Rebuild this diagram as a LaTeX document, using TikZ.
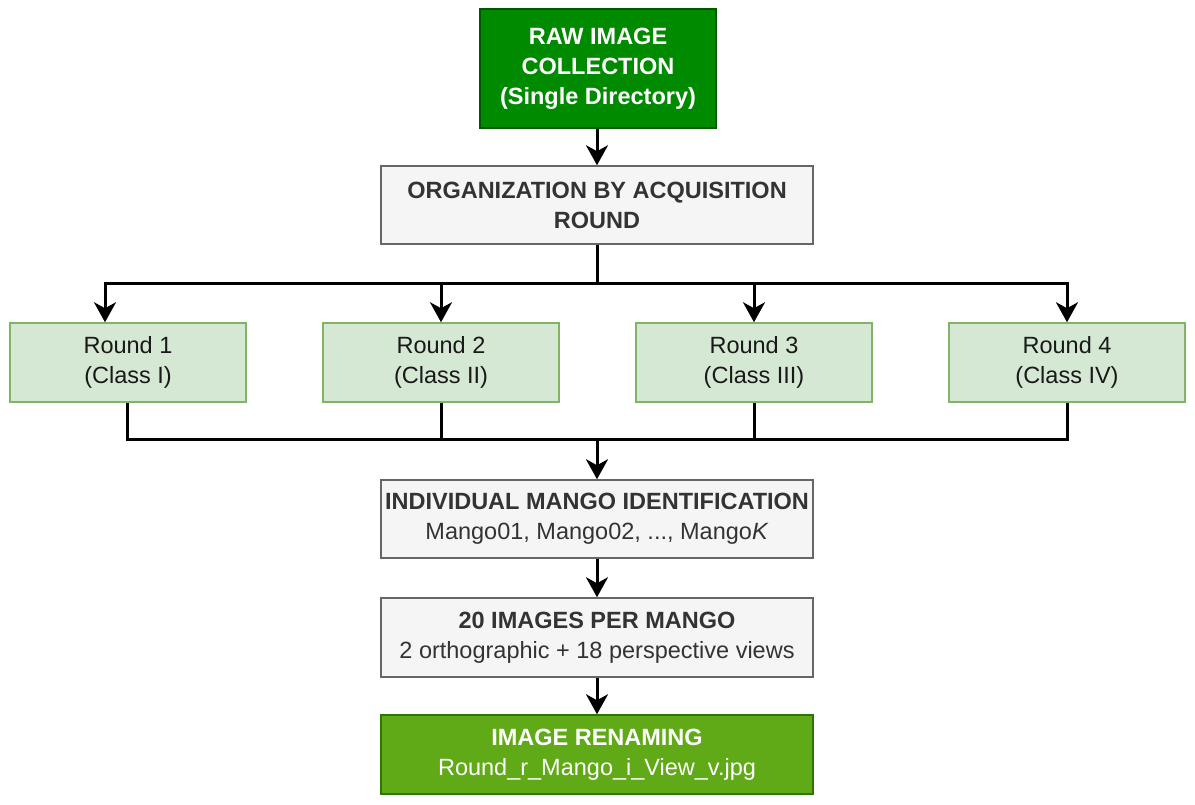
\documentclass[tikz,border=0pt]{standalone}
\usepackage{fontspec}
\setmainfont{Liberation Sans}
\usetikzlibrary{arrows.meta}
\definecolor{dkgreen}{HTML}{008A00}
\definecolor{dkgreenb}{HTML}{005700}
\definecolor{mgreen}{HTML}{60A917}
\definecolor{mgreenb}{HTML}{2D7600}
\definecolor{lgreen}{HTML}{D5E8D4}
\definecolor{lgreenb}{HTML}{82B366}
\definecolor{gfill}{HTML}{F5F5F5}
\definecolor{gbord}{HTML}{666666}
\definecolor{gtext}{HTML}{333333}
\tikzset{
  box/.style={draw, line width=1.5pt, align=center, inner sep=0pt,
    font=\fontsize{23.5}{30}\selectfont},
  darkbox/.style={box, fill=dkgreen, draw=dkgreenb, text=white,
    minimum width=236pt, minimum height=119pt},
  graybox/.style={box, fill=gfill, draw=gbord, text=gtext,
    minimum width=432pt, minimum height=78pt},
  roundbox/.style={box, fill=lgreen, draw=lgreenb, text=black!90,
    minimum width=236pt, minimum height=79pt},
  renbox/.style={box, fill=mgreen, draw=mgreenb, text=white,
    minimum width=432pt, minimum height=79pt},
  conn/.style={line width=3pt, black},
  arr/.style={conn, -{Stealth[length=20pt,width=22pt,inset=6pt]}},
}
\begin{document}
\begin{tikzpicture}[x=1pt,y=-1pt]
\useasboundingbox[fill=white] (0,0) rectangle (1195,804);
\node[darkbox] (raw) at (598,68.5) {\bfseries RAW IMAGE\\\bfseries COLLECTION\\\bfseries (Single Directory)};
\node[graybox] (org) at (597,205) {\bfseries ORGANIZATION BY ACQUISITION\\\bfseries ROUND};
\node[roundbox] (r1) at (128,362.5) {Round 1\\(Class I)};
\node[roundbox] (r2) at (441,362.5) {Round 2\\(Class II)};
\node[roundbox] (r3) at (754,362.5) {Round 3\\(Class III)};
\node[roundbox] (r4) at (1067,362.5) {Round 4\\(Class IV)};
\node[graybox] (mid) at (597,519) {\bfseries INDIVIDUAL MANGO IDENTIFICATION\\Mango01, Mango02, ..., Mango\textit{K}};
\node[graybox, minimum height=79pt] (img) at (597,637.5) {\bfseries 20 IMAGES PER MANGO\\2 orthographic + 18 perspective views};
\node[renbox] (ren) at (597,754.5) {\bfseries IMAGE RENAMING\\Round\_r\_Mango\_i\_View\_v.jpg};
\coordinate (j1) at (597,283);
\coordinate (j2) at (597,439);
\draw[arr] (raw.south -| org.north) -- (org.north);
\draw[conn] (org.south) -- (j1);
\draw[arr] (j1) -| ([xshift=-23pt]r1.north);
\draw[arr] (j1) -| (r2.north);
\draw[arr] (j1) -| (r3.north);
\draw[arr] (j1) -| (r4.north);
\draw[conn] ([xshift=-1pt]r1.south) |- (j2);
\draw[conn] (r2.south) |- (j2);
\draw[conn] (r3.south) |- (j2);
\draw[conn] (r4.south) |- (j2);
\draw[arr] (j2) -- (mid.north);
\draw[arr] (mid) -- (img);
\draw[arr] (img) -- (ren);
\end{tikzpicture}
\end{document}
